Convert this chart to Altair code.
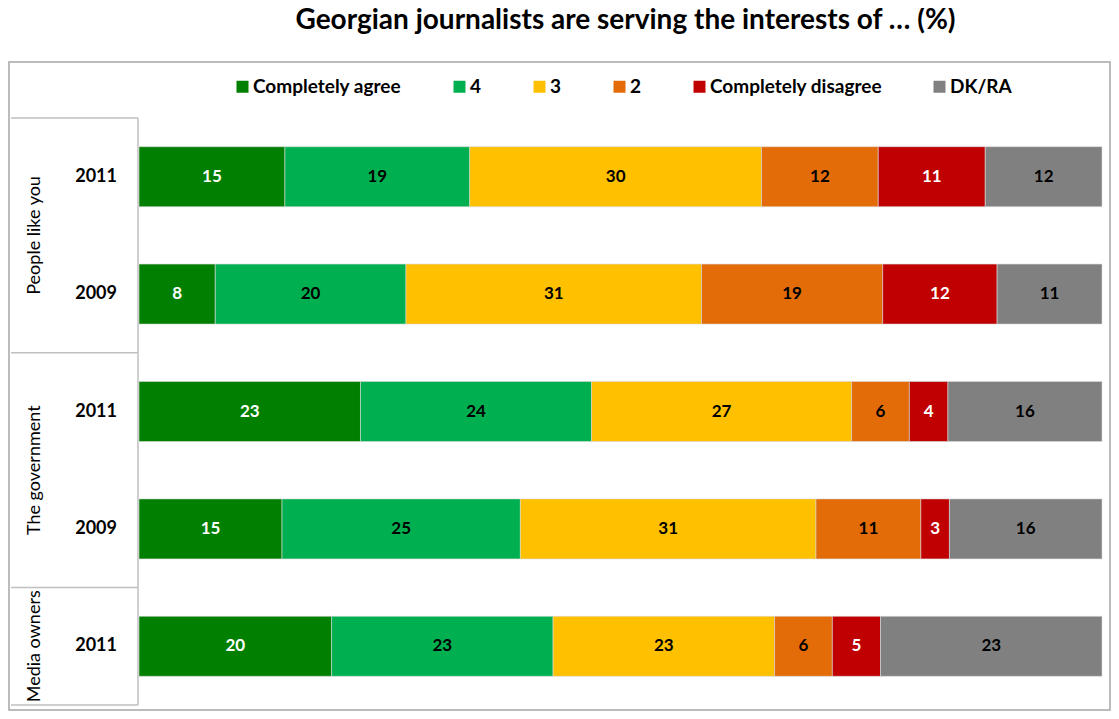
import altair as alt
import pandas as pd

# ---- data ----
categories = ["Completely agree", "4", "3", "2", "Completely disagree", "DK/RA"]
colors = ["#007F00", "#00B050", "#FFC000", "#E36C09", "#C00000", "#808080"]
label_colors = ["white", "black", "black", "black", "white", "black"]

row_groups = ["People like you", "People like you", "The government", "The government", "Media owners"]
row_years = ["2011", "2009", "2011", "2009", "2011"]

completely_agree = [15, 8, 23, 15, 20]
four = [19, 20, 24, 25, 23]
three = [30, 31, 27, 31, 23]
two = [12, 19, 6, 11, 6]
completely_disagree = [11, 12, 4, 3, 5]
dk_ra = [12, 11, 16, 16, 23]

series = [completely_agree, four, three, two, completely_disagree, dk_ra]

title_text = "Georgian journalists are serving the interests of … (%)"

# ---- tables ----
records = []
for ci, (cat, vals) in enumerate(zip(categories, series)):
    for ri, v in enumerate(vals):
        records.append({"row": ri, "cat": cat, "order": ci, "value": v,
                        "tcolor": label_colors[ci]})
df = pd.DataFrame(records)

rows_df = pd.DataFrame({"row": list(range(len(row_years))), "year": row_years, "group": row_groups})

# group spans
group_names, group_start, group_end = [], [], []
for i, g in enumerate(row_groups):
    if not group_names or group_names[-1] != g:
        group_names.append(g)
        group_start.append(i)
        group_end.append(i + 1)
    else:
        group_end[-1] = i + 1
groups_df = pd.DataFrame({"group": group_names, "start": group_start, "end": group_end})
bounds_df = pd.DataFrame({"b": sorted(set(group_start + group_end))})
n_rows = len(row_years)
span_df = pd.DataFrame({"y0": [0], "y1": [n_rows]})

FONT = "Lato"

yscale = alt.Scale(domain=[0, n_rows], reverse=True, nice=False, zero=False, padding=0)
xscale = alt.Scale(domain=[0, 1], nice=False, zero=True, padding=0)

base = alt.Chart(df).transform_stack(
    stack="value", groupby=["row"], sort=[alt.SortField("order", order="ascending")],
    offset="normalize", as_=["x0", "x1"]
).transform_calculate(
    yc="datum.row + 0.5", xm="(datum.x0 + datum.x1) / 2"
)

bars = base.mark_bar(orient="horizontal", size=60, stroke="#d9d9d9", strokeWidth=0.6).encode(
    x=alt.X("x0:Q", scale=xscale, axis=None),
    x2="x1:Q",
    y=alt.Y("yc:Q", scale=yscale, axis=None),
    color=alt.Color("cat:N", scale=alt.Scale(domain=categories, range=colors),
                    legend=alt.Legend(title=None, orient="none", direction="horizontal",
                                      columns=6, legendX=94, legendY=-41,
                                      symbolType="square", symbolSize=144, symbolStrokeWidth=0,
                                      labelFont=FONT, labelFontSize=19, labelFontWeight="bold",
                                      labelColor="black", labelOffset=1, columnPadding=48,
                                      labelLimit=300)),
)

labels = base.mark_text(font=FONT, fontSize=17, fontWeight="bold", baseline="middle").encode(
    x=alt.X("xm:Q", scale=xscale, axis=None),
    y=alt.Y("yc:Q", scale=yscale, axis=None),
    text=alt.Text("value:Q"),
    color=alt.Color("tcolor:N", scale=None),
)

years = alt.Chart(rows_df).transform_calculate(yc="datum.row + 0.5").mark_text(
    font=FONT, fontSize=18, fontWeight="bold", align="right", baseline="middle", color="black"
).encode(
    x=alt.value(-22),
    y=alt.Y("yc:Q", scale=yscale, axis=None),
    text="year:N",
)

group_labels = alt.Chart(groups_df).transform_calculate(yc="(datum.start + datum.end) / 2").mark_text(
    font=FONT, fontSize=18, angle=270, align="center", baseline="middle", color="black"
).encode(
    x=alt.value(-104),
    y=alt.Y("yc:Q", scale=yscale, axis=None),
    text="group:N",
)

hlines = alt.Chart(bounds_df).mark_rule(color="#BFBFBF", strokeWidth=1.5).encode(
    x=alt.value(-128), x2=alt.value(-1),
    y=alt.Y("b:Q", scale=yscale, axis=None),
)

vline = alt.Chart(span_df).mark_rule(color="#BFBFBF", strokeWidth=1.5).encode(
    x=alt.value(-1),
    y=alt.Y("y0:Q", scale=yscale, axis=None),
    y2="y1:Q",
)

frame = alt.Chart(span_df).mark_rect(fill="transparent", stroke="#A6A6A6", strokeWidth=1.5).encode(
    x=alt.value(-130), x2=alt.value(971),
    y=alt.value(-56), y2=alt.value(592),
)

chart = alt.layer(frame, hlines, vline, bars, labels, years, group_labels).properties(
    width=963, height=587,
    padding={"left": 131, "top": 110, "right": 9, "bottom": 6},
    autosize=alt.AutoSizeParams(type="none"),
    title=alt.TitleParams(title_text, font=FONT, fontSize=28, fontWeight="bold", color="black",
                          anchor="middle", frame="group", offset=26, dx=5),
).configure_view(stroke=None)

chart.save("out.html", embed_options={"renderer": "svg", "actions": False})
